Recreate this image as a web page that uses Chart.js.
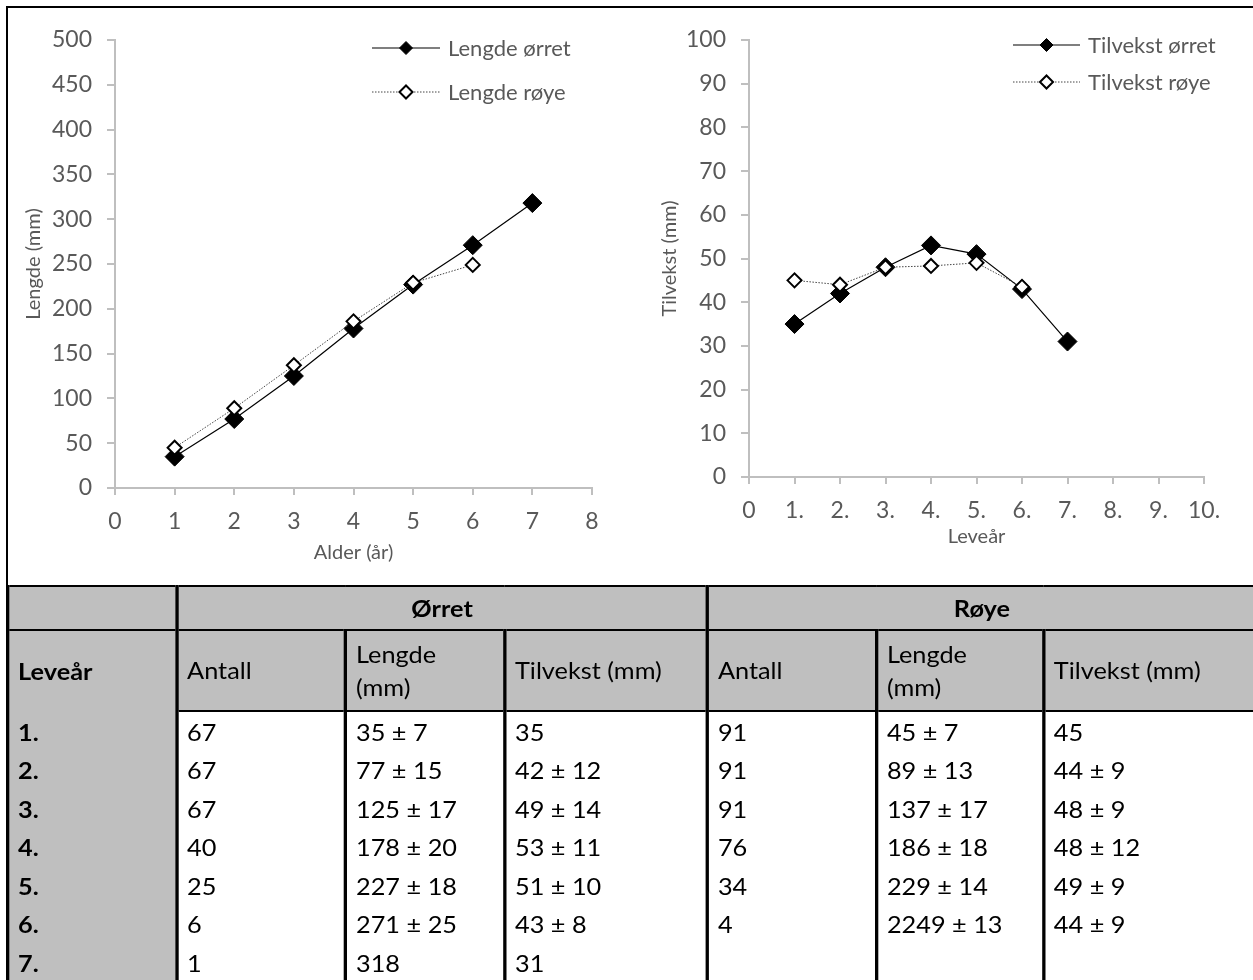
<!DOCTYPE html>
<html>
<head>
<meta charset="utf-8">
<script src="https://cdn.jsdelivr.net/npm/chart.js"></script>
<style>
  body { margin: 0; background: #fff; width: 1253px; height: 980px; overflow: hidden; position: relative; font-family: Lato, sans-serif; }
  #frame { position: absolute; left: 6px; top: 6px; width: 1260px; height: 581px; border-left: 2px solid #000; border-top: 2px solid #000; }
  .box { position: absolute; top: 0; height: 587px; }
  #tab { position: absolute; left: 6px; top: 585px; width: 1135.5px; transform: scaleX(1.1); transform-origin: 0 0; }
  table { border-collapse: collapse; table-layout: fixed; width: 100%; font-size: 23px; color: #000; }
  td { padding: 0 0 0 8px; white-space: nowrap; border-left: 3px solid #000; border-right: 3px solid #000; }
  .g { background: #bfbfbf; }
  .b { font-weight: bold; }
  .c { text-align: center; padding-left: 0; }
  tr.h1 td { height: 42px; border-top: 2px solid #000; border-bottom: 2px solid #000; }
  tr.h2 td { height: 79px; line-height: 33px; border-bottom: 2px solid #000; }
  tr.h2 td.first { border-bottom: none; }
  tr.d td { height: 38.5px; padding-top: 3px; box-sizing: border-box; }
</style>
</head>
<body>
<div id="frame"></div>
<div class="box" style="left:0;width:627px"><canvas id="c1"></canvas></div>
<div class="box" style="left:627px;width:626px"><canvas id="c2"></canvas></div>
<div id="tab"><table id="t">
  <colgroup>
    <col style="width:153.6px"><col style="width:153.6px"><col style="width:144.5px"><col style="width:184.5px">
    <col style="width:153.6px"><col style="width:151.8px"><col style="width:193.6px">
  </colgroup>
  <tr class="h1"><td class="g"></td><td class="g b c" colspan="3">Ørret</td><td class="g b c" colspan="3">Røye</td></tr>
  <tr class="h2"><td class="g b first">Leveår</td><td class="g">Antall</td><td class="g">Lengde<br>(mm)</td><td class="g">Tilvekst (mm)</td><td class="g">Antall</td><td class="g">Lengde<br>(mm)</td><td class="g">Tilvekst (mm)</td></tr>
</table></div>
<script>
// figur: lengde og tilvekst per alder
const ages = [1, 2, 3, 4, 5, 6, 7];
const lengdeOrret = [35, 77, 125, 178, 227, 271, 318];
const lengdeRoye = [45, 89, 137, 186, 229, 249];
const tilvekstOrret = [35, 42, 48, 53, 51, 43, 31];
const tilvekstRoye = [45, 44, 48, 48.3, 49, 43.5];
const levearTicks = ['0', '1.', '2.', '3.', '4.', '5.', '6.', '7.', '8.', '9.', '10.'];

// tabell
const tabLevear = ['1.', '2.', '3.', '4.', '5.', '6.', '7.'];
const tabAntallOrret = ['67', '67', '67', '40', '25', '6', '1'];
const tabLengdeOrret = ['35 ± 7', '77 ± 15', '125 ± 17', '178 ± 20', '227 ± 18', '271 ± 25', '318'];
const tabTilvekstOrret = ['35', '42 ± 12', '49 ± 14', '53 ± 11', '51 ± 10', '43 ± 8', '31'];
const tabAntallRoye = ['91', '91', '91', '76', '34', '4', ''];
const tabLengdeRoye = ['45 ± 7', '89 ± 13', '137 ± 17', '186 ± 18', '229 ± 14', '2249 ± 13', ''];
const tabTilvekstRoye = ['45', '44 ± 9', '48 ± 9', '48 ± 12', '49 ± 9', '44 ± 9', ''];

var t = document.getElementById('t')
tabLevear.forEach(function(lv, i) {
    var tr = document.createElement('tr')
    tr.className = 'd'
    var cells = [lv, tabAntallOrret[i], tabLengdeOrret[i], tabTilvekstOrret[i], tabAntallRoye[i], tabLengdeRoye[i], tabTilvekstRoye[i]]
    cells.forEach(function(txt, j) {
        var td = document.createElement('td')
        if (j == 0) td.className = 'g b'
        td.textContent = txt
        tr.appendChild(td)
    })
    t.appendChild(tr)
})

const innerLegend = {
    id: 'innerLegend',
    afterDraw(chart, args, opts) {
        const ctx = chart.ctx
        chart.data.datasets.forEach((ds, i) => {
            const y = opts.y[i]
            ctx.save()
            ctx.strokeStyle = ds.borderColor
            ctx.lineWidth = ds.borderWidth
            ctx.setLineDash(ds.borderDash || [])
            ctx.beginPath(); ctx.moveTo(opts.x0, y); ctx.lineTo(opts.x1, y); ctx.stroke()
            ctx.setLineDash([])
            const cx = (opts.x0 + opts.x1) / 2, r = opts.r[i]
            ctx.beginPath()
            ctx.moveTo(cx - r, y); ctx.lineTo(cx, y - r); ctx.lineTo(cx + r, y); ctx.lineTo(cx, y + r)
            ctx.closePath()
            ctx.fillStyle = ds.pointBackgroundColor; ctx.fill()
            ctx.lineWidth = ds.pointBorderWidth; ctx.strokeStyle = ds.pointBorderColor; ctx.stroke()
            ctx.fillStyle = '#595959'
            ctx.font = '22px Lato'
            ctx.textBaseline = 'middle'
            ctx.fillText(ds.label, opts.tx, y + 1)
            ctx.restore()
        })
    }
}

var tickFont = { family: 'Lato', size: 23 }
var titleFont = { family: 'Lato', size: 20 }

function lineChart(id, c) {
    return new Chart(document.getElementById(id), {
        type: 'line',
        data: {
            datasets: [{
                label: c.names[0],
                data: c.xs.map((x, i) => ({ x: x, y: c.a[i] })),
                order: 2,
                borderColor: '#000', borderWidth: 1.2,
                pointStyle: 'rectRot', pointRadius: 9.5, pointHoverRadius: 9.5,
                pointBackgroundColor: '#000', pointBorderColor: '#000', pointBorderWidth: 1
            }, {
                label: c.names[1],
                data: c.b.map((v, i) => ({ x: c.xs[i], y: v })),
                order: 1,
                borderColor: '#444', borderWidth: 1, borderDash: [1.5, 1.5],
                pointStyle: 'rectRot', pointRadius: 7, pointHoverRadius: 7,
                pointBackgroundColor: '#fff', pointBorderColor: '#000', pointBorderWidth: 2
            }]
        },
        plugins: [innerLegend],
        options: {
            responsive: true,
            maintainAspectRatio: false,
            animation: false,
            events: [],
            layout: { padding: { left: 0, top: 40, right: c.padRight, bottom: 0 } },
            plugins: {
                legend: { display: false },
                tooltip: { enabled: false },
                innerLegend: c.legend
            },
            scales: {
                x: {
                    type: 'linear', min: 0, max: c.xMax,
                    ticks: { stepSize: 1, color: '#595959', font: tickFont, padding: 13, maxRotation: 0, autoSkip: false, callback: c.xTick },
                    grid: { drawOnChartArea: false, drawTicks: true, tickLength: 7, color: '#bfbfbf', lineWidth: 2 },
                    border: { color: '#bfbfbf', width: 2 },
                    title: { display: true, text: c.xTitle, color: '#595959', font: titleFont, padding: { top: 0, bottom: c.xTitlePad } },
                    afterFit: s => { s.height = c.xH }
                },
                y: {
                    min: 0, max: c.yMax,
                    ticks: { stepSize: c.yStep, color: '#595959', font: tickFont, padding: 15 },
                    grid: { drawOnChartArea: false, drawTicks: true, tickLength: 8, color: '#bfbfbf', lineWidth: 2 },
                    border: { color: '#bfbfbf', width: 2 },
                    title: { display: true, text: c.yTitle, color: '#595959', font: titleFont, padding: { top: c.yTitlePad, bottom: 0 } },
                    afterFit: s => { s.width = c.yW }
                }
            }
        }
    })
}

lineChart('c1', {
    names: ['Lengde ørret', 'Lengde røye'],
    xs: ages, a: lengdeOrret, b: lengdeRoye,
    xMax: 8, yMax: 500, yStep: 50,
    xTick: v => String(v),
    xTitle: 'Alder (år)', yTitle: 'Lengde (mm)',
    padRight: 35, yW: 115, xH: 99, yTitlePad: 22, xTitlePad: 22,
    legend: { x0: 372, x1: 440, tx: 448, y: [48, 92], r: [6.5, 6.5] }
})

lineChart('c2', {
    names: ['Tilvekst ørret', 'Tilvekst røye'],
    xs: ages, a: tilvekstOrret, b: tilvekstRoye,
    xMax: 10, yMax: 100, yStep: 10,
    xTick: v => levearTicks[v],
    xTitle: 'Leveår', yTitle: 'Tilvekst (mm)',
    padRight: 49, yW: 122, xH: 110, yTitlePad: 31, xTitlePad: 38,
    legend: { x0: 386, x1: 453, tx: 461, y: [45, 82], r: [6.5, 6.5] }
})
</script>
</body>
</html>
